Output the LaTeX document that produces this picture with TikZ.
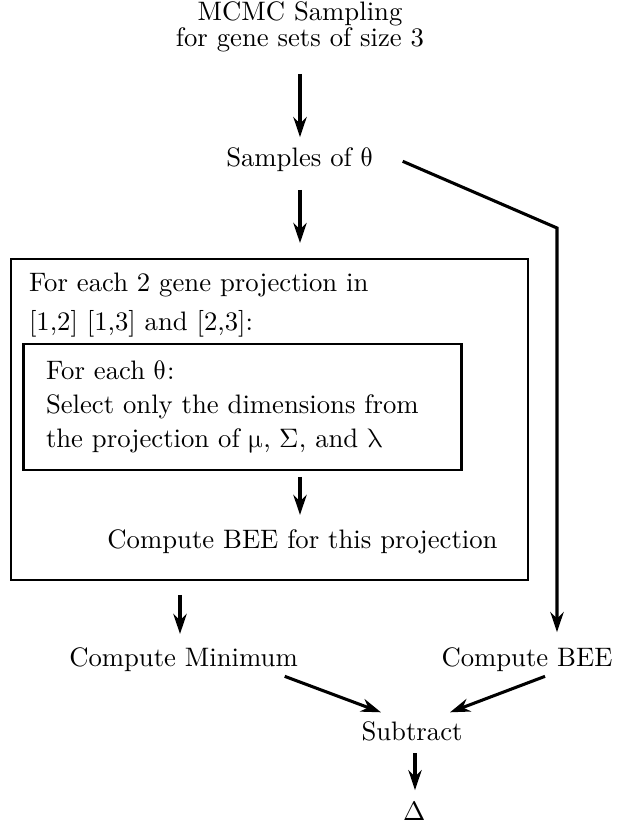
\documentclass[tikz,border=0pt]{standalone}
\usepackage{unicode-math}
\usetikzlibrary{arrows.meta}

\tikzset{
  txt/.style={inner sep=0pt, outer sep=0pt, text height=7pt, text depth=2pt, anchor=base},
  txtl/.style={txt, anchor=base west},
  frame/.style={draw, line width=1.1pt, inner sep=0pt, outer sep=0pt},
  arr/.style={line width=1.15pt, -{Stealth[length=7.5pt, width=5pt, inset=2.4pt]}},
}

\begin{document}
\begin{tikzpicture}[x=0.3745pt, y=-0.3745pt]
  \useasboundingbox (0,0) rectangle (616,827);

  % title and samples
  \node[txt] (t1) at (300,21) {MCMC Sampling};
  \node[txt] (t2) at (300,47) {for gene sets of size 3};
  \node[txt] (samp) at (300,167) {Samples of $\uptheta$};

  % outer loop box with its heading
  \node[frame, minimum width=193.6pt, minimum height=120.2pt] (outer) at (269.5,419.5) {};
  \node[txtl] (o1) at (29,291) {For each 2 gene projection in};
  \node[txtl] (o2) at (29,330) {[1,2] [1,3] and [2,3]:};

  % inner loop box
  \node[frame, minimum width=163.7pt, minimum height=47.2pt] (inner) at (242.5,407) {};
  \node[txtl] (i1) at (46,379) {For each $\uptheta$:};
  \node[txtl] (i2) at (46,413) {Select only the dimensions from};
  \node[txtl] (i3) at (46,447) {the projection of $\upmu$, $\Sigma$, and $\uplambda$};

  \node[txt] (cbeep) at (302.5,548) {Compute BEE for this projection};

  % lower part
  \node[txt] (cmin) at (183.5,666) {Compute Minimum};
  \node[txt] (cbee) at (527,666) {Compute BEE};
  \node[txt] (sub) at (412,740) {Subtract};
  \node[txt] (delta) at (415,820) {$\Delta$};

  \coordinate (bend) at (557,228);

  % connectors
  \draw[arr, shorten <=8.1pt, shorten >=4.2pt] (t2.south) -- (samp.north);
  \draw[arr, shorten <=6.6pt, shorten >=6.0pt] (samp.south) -- (samp.south |- outer.north);
  \draw[arr, shorten >=5.7pt] ([shift={(29,13)}]samp.north east) -- (bend) -- (bend |- cbee.north);
  \draw[arr, shorten <=2.6pt, shorten >=5.4pt] ([shift={(-2.5,0)}]inner.south -| cbeep.north) -- ([shift={(-2.5,0)}]cbeep.north);
  \draw[arr, shorten <=5.6pt, shorten >=5.0pt] ([shift={(-3.5,0)}]outer.south -| cmin.north) -- ([shift={(-3.5,0)}]cmin.north);
  \draw[arr] ([shift={(-13,5)}]cmin.south east) -- ([shift={(-31,-9)}]sub.north);
  \draw[arr] ([shift={(18,5)}]cbee.south) -- ([shift={(38,-9)}]sub.north);
  \draw[arr, shorten <=2.9pt, shorten >=4.2pt] (delta.north |- sub.south) -- (delta.north);
\end{tikzpicture}
\end{document}
